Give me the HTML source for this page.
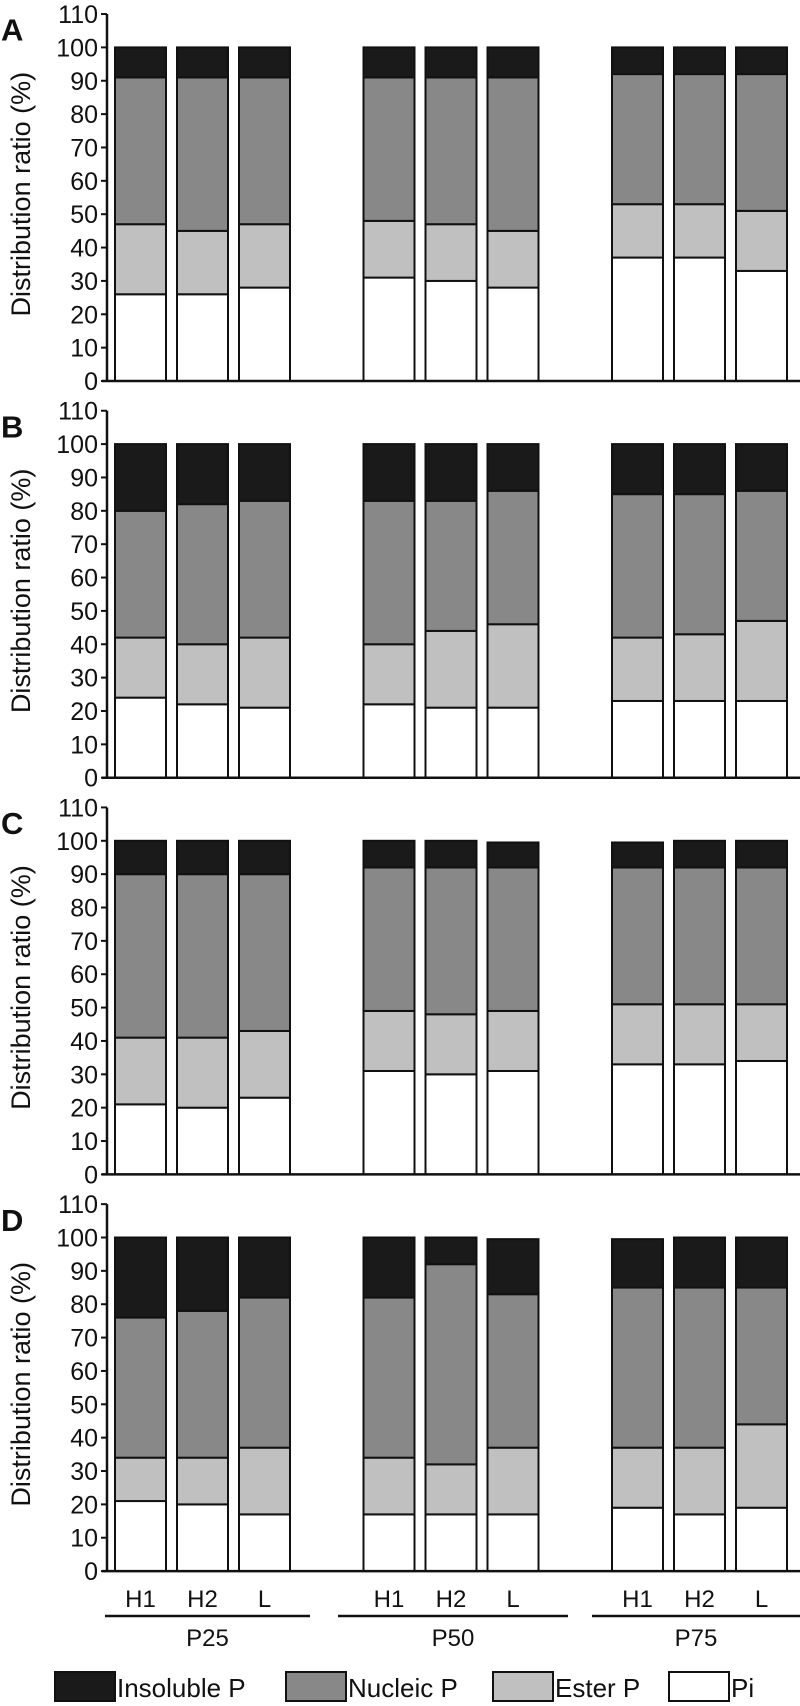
<!DOCTYPE html>
<html><head><meta charset="utf-8"><style>
html,body{margin:0;padding:0;background:#fff;}
svg{display:block;font-family:"Liberation Sans",Arial,sans-serif;}
</style></head><body>
<svg id="chart" width="800" height="1706" viewBox="0 0 800 1706" xmlns="http://www.w3.org/2000/svg"></svg>
<script>
const panels = ["A","B","C","D"];
const groups = ["P25","P50","P75"];
const cultivars = ["H1","H2","L"];
const yTicks = [0,10,20,30,40,50,60,70,80,90,100,110];
const seriesNames = ["Insoluble P","Nucleic P","Ester P","Pi"];
const piVals = [
  [26,26,28, 31,30,28, 37,37,33],
  [24,22,21, 22,21,21, 23,23,23],
  [21,20,23, 31,30,31, 33,33,34],
  [21,20,17, 17,17,17, 19,17,19]];
const esterVals = [
  [21,19,19, 17,17,17, 16,16,18],
  [18,18,21, 18,23,25, 19,20,24],
  [20,21,20, 18,18,18, 18,18,17],
  [13,14,20, 17,15,20, 18,20,25]];
const nucleicVals = [
  [44,46,44, 43,44,46, 39,39,41],
  [38,42,41, 43,39,40, 43,42,39],
  [49,49,47, 43,44,43, 41,41,41],
  [42,44,45, 48,60,46, 48,48,41]];
const insolubleVals = [
  [9,9,9, 9,9,9, 8,8,8],
  [20,18,17, 17,17,14, 15,15,14],
  [10,10,10, 8,8,7.5, 7.5,8,8],
  [24,22,18, 18,8,16.5, 14.5,15,15]];
const colors = ["#1a1a1a","#888888","#c0c0c0","#ffffff"];

const svg = document.getElementById('chart');
const NS = "http://www.w3.org/2000/svg";
const axisX = 107, plotRight = 800;
const base0 = 381, period = 396.7, pxPerUnit = 3.336;
const barW = 51, groupStart = 115, groupStep = 248.5, barStep = 62;
function yScale(p, v){ return base0 + p*period - v*pxPerUnit; }
function xBar(i){ return groupStart + Math.floor(i/3)*groupStep + (i%3)*barStep; }
function mk(tag, attrs, parent){ const e=document.createElementNS(NS,tag); for(const k in attrs) e.setAttribute(k,attrs[k]); (parent||svg).appendChild(e); return e; }

panels.forEach((pl, p) => {
  const g = mk('g',{});
  
  
  const lab = mk('text',{x:1,y:yScale(p,102),'font-size':31,'font-weight':'bold',fill:'#111'},g);
  lab.textContent = pl;
  
  
  const t = mk('text',{x:0,y:0,'font-size':27,fill:'#111','text-anchor':'middle',transform:`translate(30,${yScale(p,56)}) rotate(-90)`},g);
  t.textContent = 'Distribution ratio (%)';
  
  
  for (let i=0;i<9;i++){
    const segs = [piVals[p][i], esterVals[p][i], nucleicVals[p][i], insolubleVals[p][i]];
    const cols = [colors[3], colors[2], colors[1], colors[0]];
    const nm = ['pi','ester-p','nucleic-p','insoluble-p'];
    let cum = 0;
    segs.forEach((v,k) => {
      const y1 = yScale(p, cum + v), y0 = yScale(p, cum);
      const r = mk('rect',{x:xBar(i),y:y1,width:barW,height:y0-y1,fill:cols[k],stroke:'#111','stroke-width':2},g);
      
      
      cum += v;
    });
  }
  const ax = mk('line',{x1:axisX,y1:yScale(p,110),x2:axisX,y2:yScale(p,0),stroke:'#111','stroke-width':2.5},g);
  
  
  const bx = mk('line',{x1:102,y1:yScale(p,0),x2:plotRight,y2:yScale(p,0),stroke:'#111','stroke-width':2.5},g);
  
  
  yTicks.forEach(v => {
    const tk = mk('line',{x1:101,y1:yScale(p,v),x2:axisX,y2:yScale(p,v),stroke:'#111','stroke-width':2},g);
    
    
    const tl = mk('text',{x:98,y:yScale(p,v)+9,'font-size':25,fill:'#111','text-anchor':'end'},g);
    tl.textContent = v;
    
    
  });
});

for (let i=0;i<9;i++){
  const tx = mk('text',{x:xBar(i)+barW/2,y:1607,'font-size':24,fill:'#111','text-anchor':'middle'});
  tx.textContent = cultivars[i%3];
  
  
}
const groupLines = [[105,310],[338,568],[592,800]];
groups.forEach((gname, j) => {
  const ln = mk('line',{x1:groupLines[j][0],y1:1616,x2:groupLines[j][1],y2:1616,stroke:'#111','stroke-width':2.5});
  
  
  const gt = mk('text',{x:(groupLines[j][0]+groupLines[j][1])/2,y:1646,'font-size':24,fill:'#111','text-anchor':'middle'});
  gt.textContent = gname;
  
  
});
const legX = [55,286,493,669];
seriesNames.forEach((s,k) => {
  const r = mk('rect',{x:legX[k],y:1672,width:60,height:29,fill:colors[k],stroke:'#111','stroke-width':2});
  
  
  const t = mk('text',{x:legX[k]+62,y:1697,'font-size':26,fill:'#111'});
  t.textContent = s;
  
  
});
</script>
</body></html>
